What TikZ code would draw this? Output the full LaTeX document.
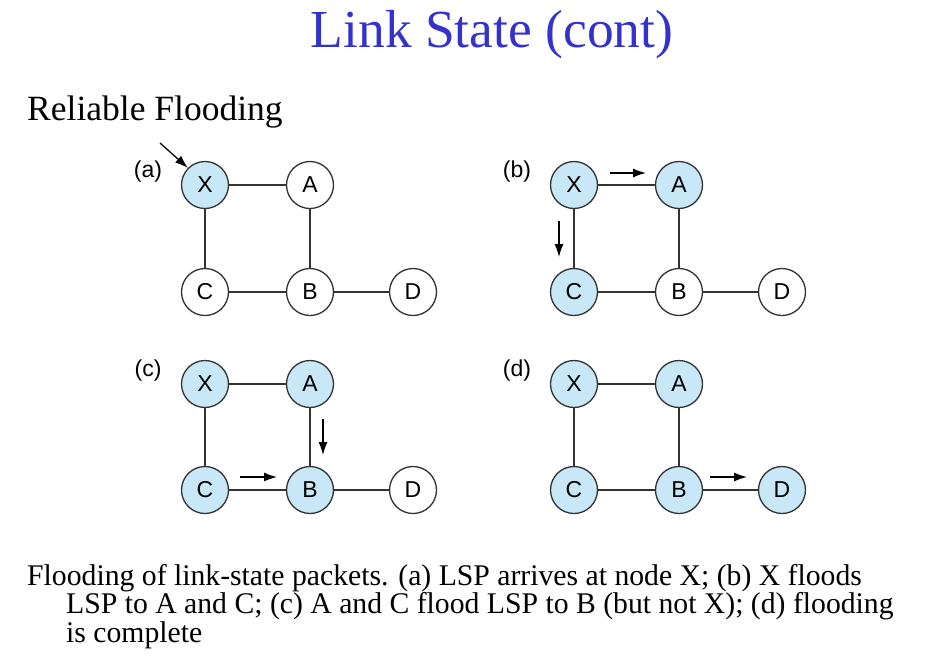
\documentclass[tikz,border=0pt]{standalone}
\usepackage{fontspec}
\setmainfont{Liberation Serif}
\newfontfamily\figfont{Liberation Sans}
\usetikzlibrary{arrows.meta}

\definecolor{titleblue}{RGB}{51,51,204}
\definecolor{floodblue}{RGB}{200,232,248}
\definecolor{linkgray}{RGB}{50,50,50}

\tikzset{
    router/.style = {circle, draw = linkgray, line width = 1.3pt, fill = white,
                     minimum size = 47pt, inner sep = 0pt,
                     font = \figfont\fontsize{23}{23}\selectfont},
    flooded/.style = {router, fill = floodblue},
    link/.style = {draw = linkgray, line width = 1.3pt},
    lsp/.style = {-{Latex[length = 13pt, width = 9pt]}, line width = 1.3pt},
    panel/.style = {font = \figfont\fontsize{23}{23}\selectfont, anchor = base}
}

\begin{document}
\begin{tikzpicture}[x = 1pt, y = -1pt]
    \useasboundingbox (0, 0) rectangle (927, 657);

    \node [anchor = base, text = titleblue, font = \fontsize{53.5}{53.5}\selectfont]
        (title) at (492, 47) {Link State (cont)};
    \node [anchor = base west, inner sep = 0pt, font = \fontsize{35.5}{35.5}\selectfont]
        (subtitle) at (27, 120) {Reliable Flooding};

    % (a) LSP arrives at X
    \begin{scope}[shift = {(205, 185)}]
        \node [panel] (alabel) at (-57, -8) {(a)};
        \node [flooded] (aX) at (0, 0) {X};
        \node [router] (aA) at (105, 0) {A};
        \node [router] (aC) at (0, 107) {C};
        \node [router] (aB) at (105, 107) {B};
        \node [router] (aD) at (208, 107) {D};
        \draw [link] (aX) -- (aA);
        \draw [link] (aX) -- (aC);
        \draw [link] (aA) -- (aB);
        \draw [link] (aC) -- (aB);
        \draw [link] (aB) -- (aD);
        \coordinate (ain) at (-45, -42);
        \draw [lsp] (ain) -- (aX.135);
    \end{scope}

    % (b) X floods to A and C
    \begin{scope}[shift = {(574, 185)}]
        \node [panel] (blabel) at (-57, -8) {(b)};
        \node [flooded] (bX) at (0, 0) {X};
        \node [flooded] (bA) at (105, 0) {A};
        \node [flooded] (bC) at (0, 107) {C};
        \node [router] (bB) at (105, 107) {B};
        \node [router] (bD) at (208, 107) {D};
        \draw [link] (bX) -- (bA);
        \draw [link] (bX) -- (bC);
        \draw [link] (bA) -- (bB);
        \draw [link] (bC) -- (bB);
        \draw [link] (bB) -- (bD);
        \coordinate (bxa1) at (36, -12);
        \coordinate (bxa2) at (72, -12);
        \coordinate (bxc1) at (-15, 36);
        \coordinate (bxc2) at (-15, 72);
        \draw [lsp] (bxa1) -- (bxa2);
        \draw [lsp] (bxc1) -- (bxc2);
    \end{scope}

    % (c) A and C flood to B
    \begin{scope}[shift = {(205, 384)}]
        \node [panel] (clabel) at (-57, -8) {(c)};
        \node [flooded] (cX) at (0, 0) {X};
        \node [flooded] (cA) at (105, 0) {A};
        \node [flooded] (cC) at (0, 106) {C};
        \node [flooded] (cB) at (105, 106) {B};
        \node [router] (cD) at (208, 106) {D};
        \draw [link] (cX) -- (cA);
        \draw [link] (cX) -- (cC);
        \draw [link] (cA) -- (cB);
        \draw [link] (cC) -- (cB);
        \draw [link] (cB) -- (cD);
        \coordinate (ccb1) at (35, 93);
        \coordinate (ccb2) at (72, 93);
        \coordinate (cab1) at (118, 35);
        \coordinate (cab2) at (118, 71);
        \draw [lsp] (ccb1) -- (ccb2);
        \draw [lsp] (cab1) -- (cab2);
    \end{scope}

    % (d) flooding complete
    \begin{scope}[shift = {(574, 384)}]
        \node [panel] (dlabel) at (-57, -8) {(d)};
        \node [flooded] (dX) at (0, 0) {X};
        \node [flooded] (dA) at (105, 0) {A};
        \node [flooded] (dC) at (0, 106) {C};
        \node [flooded] (dB) at (105, 106) {B};
        \node [flooded] (dD) at (208, 106) {D};
        \draw [link] (dX) -- (dA);
        \draw [link] (dX) -- (dC);
        \draw [link] (dA) -- (dB);
        \draw [link] (dC) -- (dB);
        \draw [link] (dB) -- (dD);
        \coordinate (dbd1) at (136, 93);
        \coordinate (dbd2) at (173, 93);
        \draw [lsp] (dbd1) -- (dbd2);
    \end{scope}

    \node [anchor = base west, inner sep = 0pt, align = left,
           font = \fontsize{30}{27}\selectfont] (caption) at (27, 642)
        {\scalebox{0.99}[1]{Flooding of link-state packets. (a) LSP arrives at node X; (b) X floods}\\
         \hspace*{39pt}\scalebox{0.99}[1]{LSP to A and C; (c) A and C flood LSP to B (but not X); (d) flooding}\\
         \hspace*{39pt}\scalebox{0.99}[1]{is complete}};
\end{tikzpicture}
\end{document}
